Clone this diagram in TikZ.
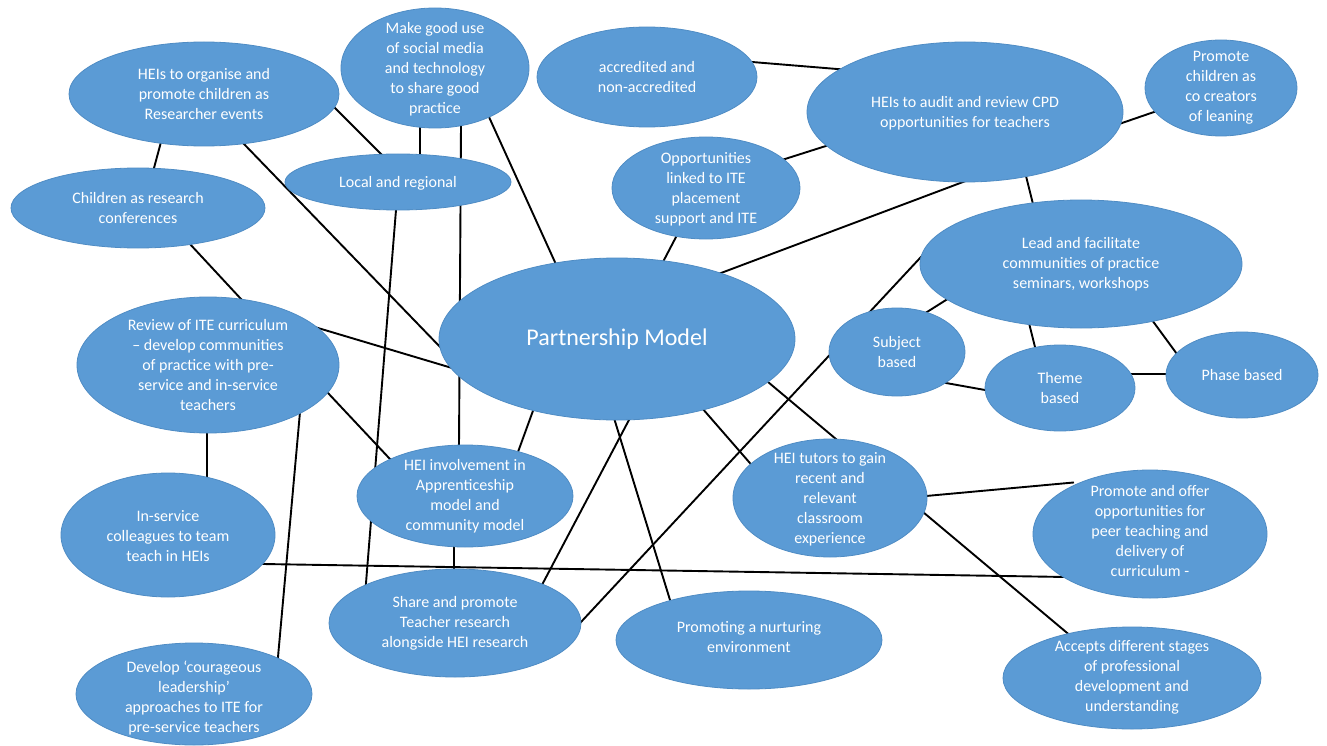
\documentclass[tikz,border=0pt]{standalone}
\usepackage{fontspec}
\setmainfont{Carlito}
\usetikzlibrary{shapes.geometric,calc}
\pgfdeclarelayer{bgzero}
\pgfdeclarelayer{background}
\pgfsetlayers{bgzero,background,main}
\definecolor{bubfill}{HTML}{5B9BD5}
\definecolor{bubline}{HTML}{4F8CC4}
\tikzset{
 bub/.style={ellipse, fill=bubfill, draw=bubline, line width=0.8pt, inner sep=0pt},
 txt/.style={text=white, align=center, font=\fontsize{16}{20}\selectfont, inner sep=0pt},
 bigtxt/.style={text=white, align=center, font=\fontsize{24}{28}\selectfont, inner sep=0pt},
 link/.style={draw=black, line width=1.9pt, shorten <=-6pt, shorten >=-6pt}
}
\newcommand\bub[7]{%
 \node[bub, minimum width=#4*2pt, minimum height=#5*2pt] (#1) at (#2,#3) {};
 \node[txt] (#1-t) at ($(#1)+(0,#6)$) {#7};
}
\begin{document}
\begin{tikzpicture}[x=1pt,y=-1pt]
\useasboundingbox (0,0) rectangle (1327,746);
\begin{pgfonlayer}{bgzero}
\fill[white] (0,0) rectangle (1327,746);
\end{pgfonlayer}
\bub{hei1}{204}{94}{135}{52}{0}{HEIs to organise and\\promote children as\\Researcher events}
\bub{social}{435}{68}{94}{60}{1}{Make good use\\of social media\\and technology\\to share good\\practice}
\bub{accr}{647}{77}{110}{50}{0}{accredited and\\non-accredited}
\bub{cpd}{965}{112}{158}{70}{1}{HEIs to audit and review CPD\\opportunities for teachers}
\bub{cocr}{1221}{88}{76}{48}{0}{Promote\\children as\\co creators\\of leaning}
\bub{opp}{706}{188}{94}{51}{1}{Opportunities\\linked to ITE\\placement\\support and ITE}
\bub{lead}{1081}{264}{161}{64}{0}{Lead and facilitate\\communities of practice\\seminars, workshops}
\bub{local}{398}{182}{113}{28}{1}{Local and regional}
\bub{conf}{138}{208}{127}{40}{0}{Children as research\\conferences}
\node[bub, minimum width=356pt, minimum height=162pt] (pm) at (617,339) {};
\node[bigtxt] (pm-t) at (pm) {Partnership Model};
\bub{subj}{897}{352}{68}{44}{0}{Subject\\based}
\bub{theme}{1060}{388}{75}{43}{0}{Theme\\based}
\bub{phase}{1242}{375}{76}{43}{0}{Phase based}
\bub{review}{208}{365}{131}{68}{0}{Review of ITE curriculum\\– develop communities\\of practice with pre-\\service and in-service\\teachers}
\bub{appr}{465}{496}{108}{51}{0}{HEI involvement in\\Apprenticeship\\model and\\community model}
\bub{tutors}{830}{498}{97}{59}{1}{HEI tutors to gain\\recent and\\relevant\\classroom\\experience}
\bub{inserv}{168}{535}{107}{62}{1}{In-service\\colleagues to team\\teach in HEIs}
\bub{peer}{1150}{534}{117}{64}{-3}{Promote and offer\\opportunities for\\peer teaching and\\delivery of\\curriculum -}
\bub{share}{455}{623}{126}{54}{0}{Share and promote\\Teacher research\\alongside HEI research}
\bub{nurt}{749}{640}{133}{49}{-3}{Promoting a nurturing\\environment}
\bub{accp}{1132}{678}{129}{51}{-1}{Accepts different stages\\of professional\\development and\\understanding}
\bub{cour}{194}{694}{118}{51}{4}{Develop ‘courageous\\leadership’\\approaches to ITE for\\pre-service teachers}
\begin{pgfonlayer}{background}
\draw[link] ($(hei1)+(-43,48)$) -- ($(conf)+(16,-40)$);
\draw[link] ($(hei1)+(39,49)$) -- ($(pm)+(-174,11)$);
\draw[link] ($(hei1)+(130,13)$) -- ($(local)+(-16,-27)$);
\draw[link] ($(social)+(-15,60)$) -- ($(local)+(22,-27)$);
\draw[link] ($(social)+(26,56)$) -- ($(appr)+(-6,-50)$);
\draw[link] ($(local)+(-2,28)$) -- ($(share)+(-89,-40)$);
\draw[link] ($(social)+(54,49)$) -- ($(pm)+(-63,-79)$);
\draw[link] ($(conf)+(51,35)$) -- ($(review)+(33,-66)$);
\draw[link] ($(review)+(110,-37)$) -- ($(pm)+(-165,29)$);
\draw[link] ($(review)+(120,28)$) -- ($(appr)+(-76,-38)$);
\draw[link] ($(review)+(-1,68)$) -- ($(inserv)+(39,-62)$);
\draw[link] ($(review)+(92,47)$) -- ($(cour)+(84,-37)$);
\draw[link] ($(inserv)+(95,29)$) -- ($(peer)+(-84,43)$);
\draw[link] ($(appr)+(-11,51)$) -- ($(share)+(-1,-54)$);
\draw[link] ($(appr)+(53,-44)$) -- ($(pm)+(-83,69)$);
\draw[link] ($(share)+(88,-40)$) -- ($(pm)+(13,79)$);
\draw[link] ($(share)+(126,-1)$) -- ($(lead)+(-161,-6)$);
\draw[link] ($(nurt)+(-79,-40)$) -- ($(pm)+(-3,79)$);
\draw[link] ($(pm)+(85,69)$) -- ($(tutors)+(-81,-36)$);
\draw[link] ($(pm)+(151,43)$) -- ($(accp)+(-66,-46)$);
\draw[link] ($(tutors)+(96,-2)$) -- ($(peer)+(-82,-51)$);
\draw[link] ($(pm)+(47,-79)$) -- ($(opp)+(-30,49)$);
\draw[link] ($(pm)+(104,-66)$) -- ($(cpd)+(-2,70)$);
\draw[link] ($(opp)+(79,-29)$) -- ($(cpd)+(-136,33)$);
\draw[link] ($(accr)+(105,-15)$) -- ($(cpd)+(-128,-43)$);
\draw[link] ($(cpd)+(157,11)$) -- ($(cocr)+(-67,24)$);
\draw[link] ($(cpd)+(62,68)$) -- ($(lead)+(-49,-64)$);
\draw[link] ($(lead)+(-135,36)$) -- ($(subj)+(30,-40)$);
\draw[link] ($(lead)+(-51,63)$) -- ($(theme)+(-25,-41)$);
\draw[link] ($(lead)+(71,56)$) -- ($(phase)+(-68,-25)$);
\draw[link] ($(subj)+(49,31)$) -- ($(theme)+(-75,2)$);
\draw[link] ($(theme)+(73,-14)$) -- ($(phase)+(-75,-1)$);
\end{pgfonlayer}
\end{tikzpicture}
\end{document}
